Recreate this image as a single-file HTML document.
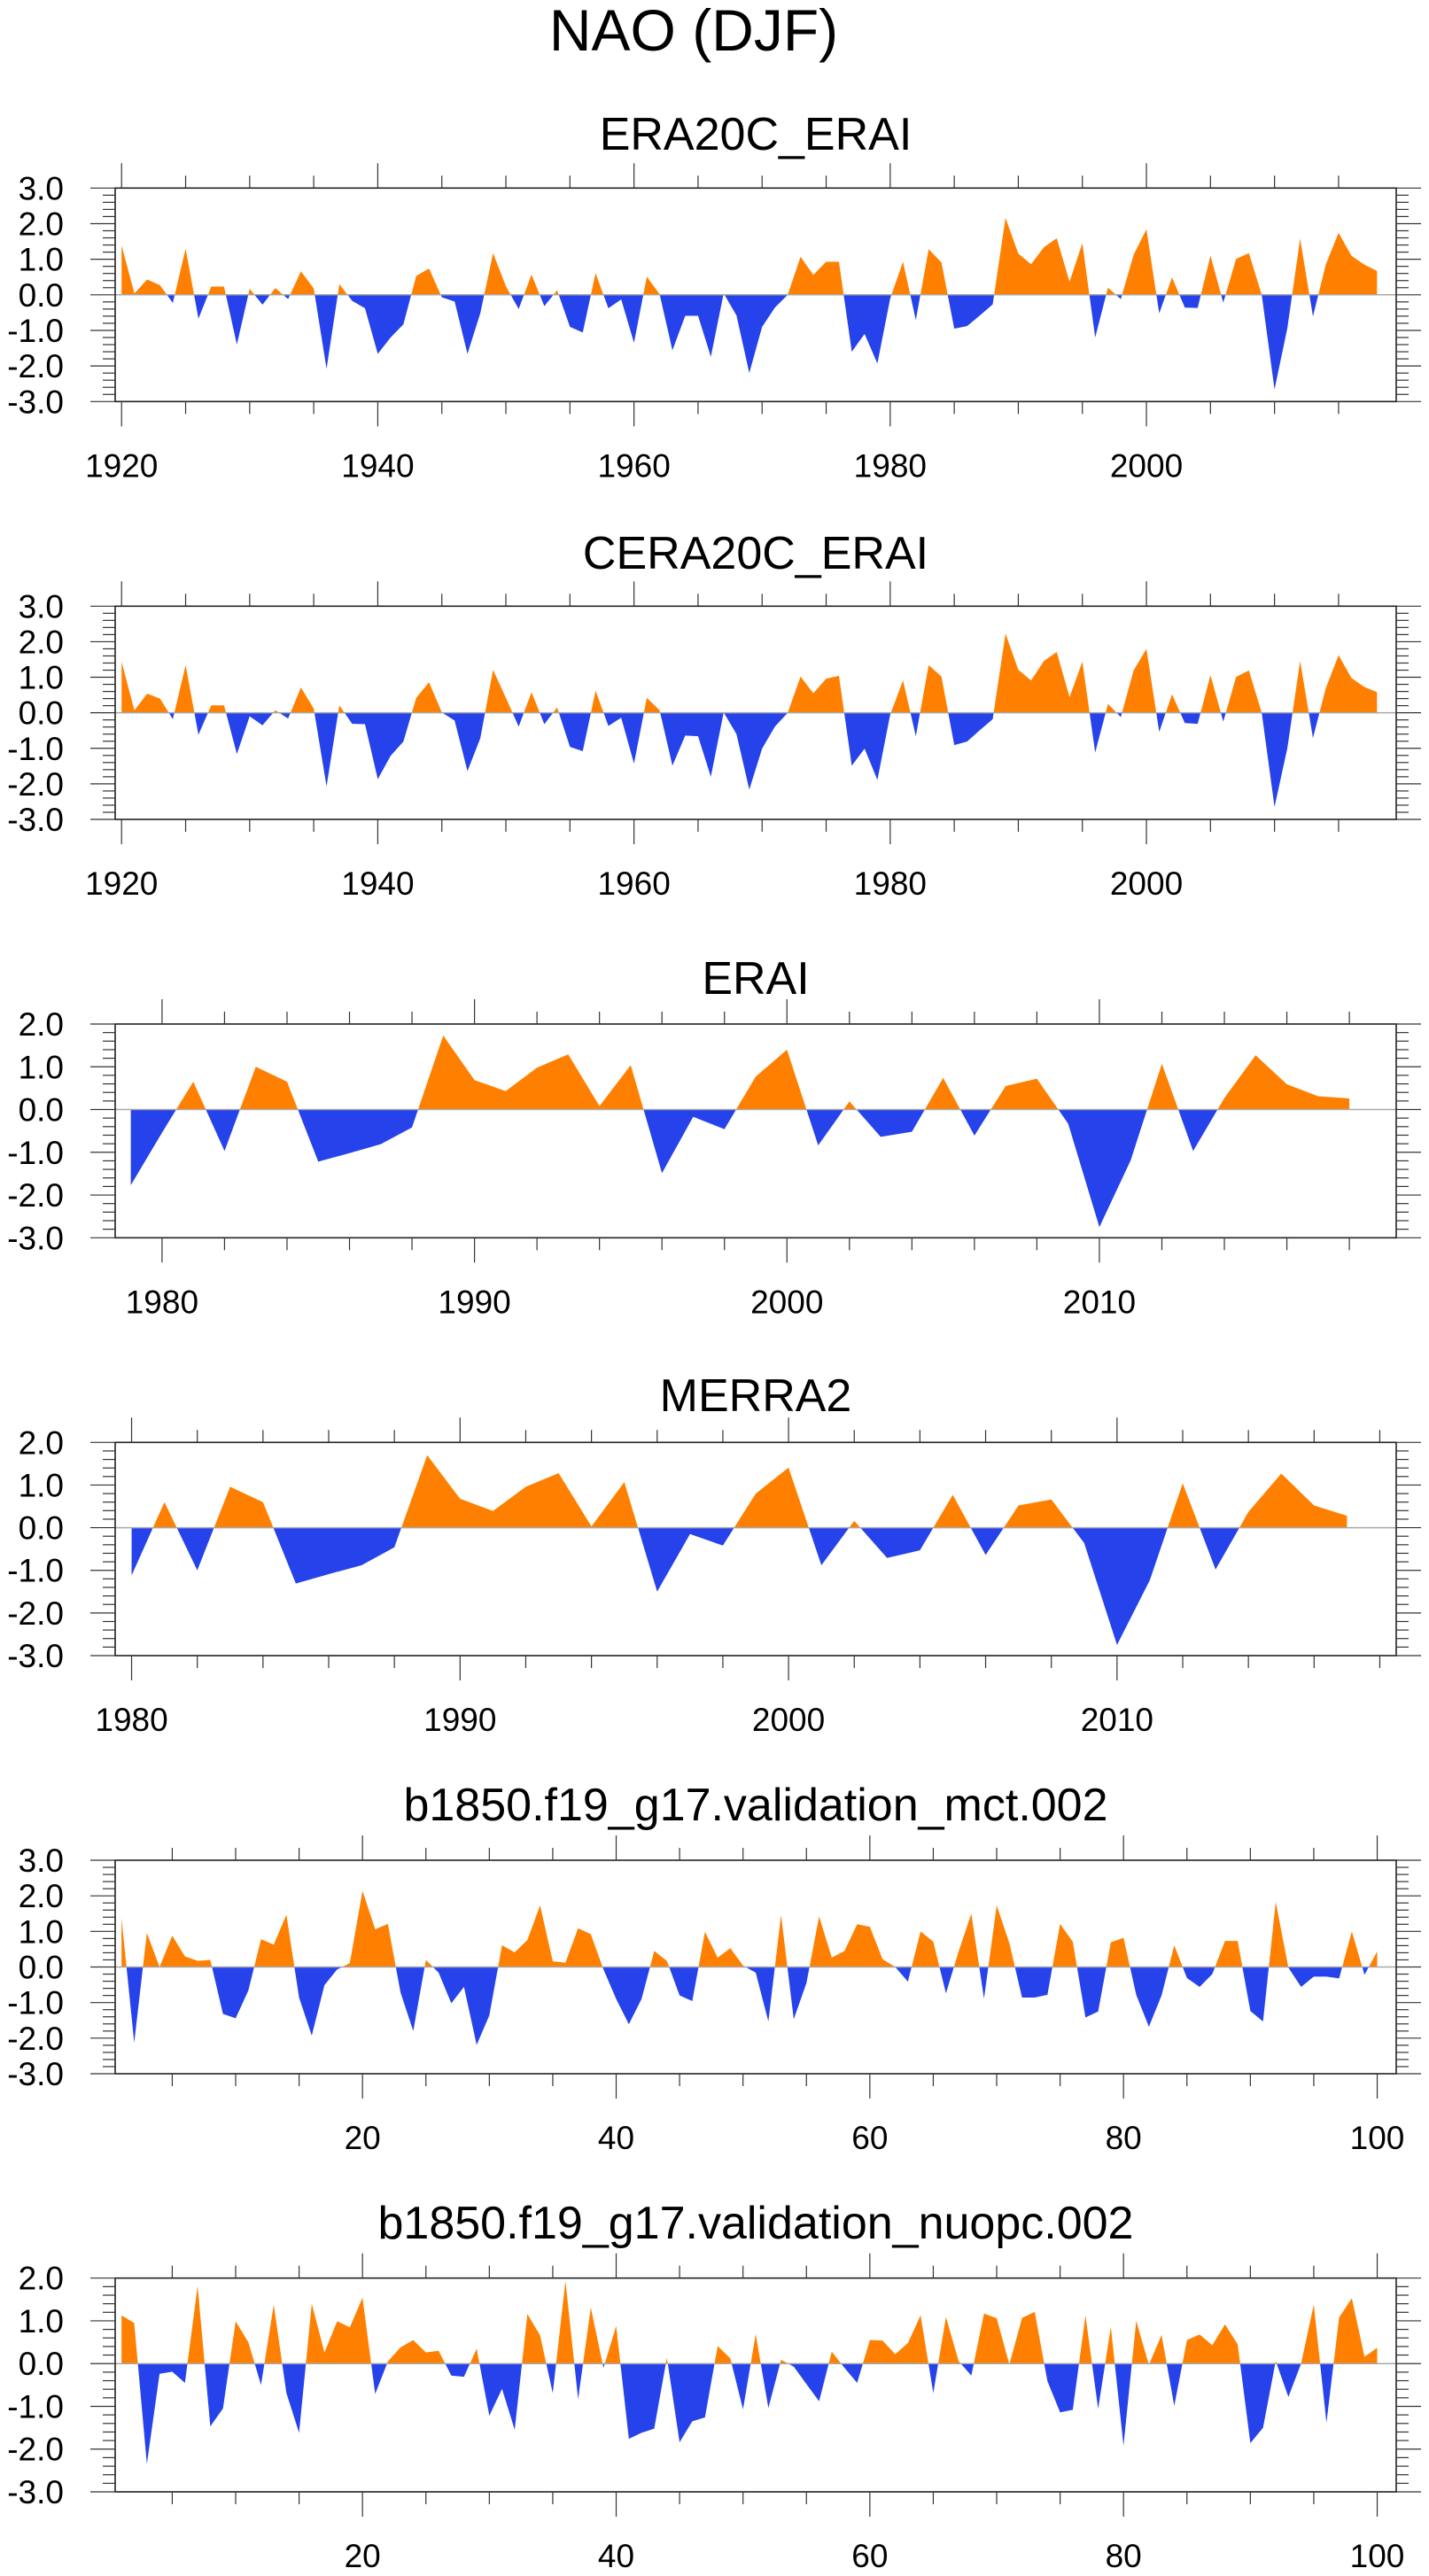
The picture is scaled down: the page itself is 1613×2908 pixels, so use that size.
<!DOCTYPE html>
<html>
<head>
<meta charset="utf-8">
<title>NAO (DJF)</title>
<style>
html,body{margin:0;padding:0;background:#fff;}
svg{display:block;}
text{font-family:"Liberation Sans",Arial,sans-serif;fill:#000;}
</style>
</head>
<body>
<svg id="chart" xmlns="http://www.w3.org/2000/svg" width="1613" height="2908" viewBox="0 0 1613 2908">
<rect x="0" y="0" width="1613" height="2908" fill="#fff"/>
<text x="783" y="57" font-size="66" text-anchor="middle">NAO (DJF)</text>
<g id="panels"></g>
</svg>
<script>
// ---- data ----
const era20cValues = [1.39,0.04,0.43,0.27,-0.23,1.30,-0.67,0.23,0.23,-1.40,0.17,-0.28,0.19,-0.12,0.66,0.18,-2.08,0.30,-0.17,-0.38,
-1.66,-1.20,-0.83,0.53,0.74,-0.07,-0.19,-1.66,-0.52,1.17,0.24,-0.40,0.57,-0.32,0.13,-0.90,-1.06,0.61,-0.38,-0.13,
-1.35,0.51,0.02,-1.56,-0.59,-0.59,-1.74,0.04,-0.58,-2.20,-0.90,-0.36,0.0,1.07,0.56,0.93,0.93,-1.60,-1.10,-1.93,
-0.10,0.93,-0.71,1.28,0.91,-0.95,-0.88,-0.58,-0.27,2.16,1.16,0.86,1.34,1.59,0.37,1.45,-1.20,0.20,-0.12,1.12,
1.84,-0.52,0.49,-0.36,-0.37,1.10,-0.22,1.01,1.17,0.0,-2.66,-0.94,1.58,-0.61,0.85,1.74,1.10,0.85,0.67];
const cera20cValues = [1.44,0.07,0.54,0.40,-0.18,1.34,-0.62,0.21,0.21,-1.16,-0.10,-0.35,0.07,-0.16,0.71,0.12,-2.07,0.21,-0.31,-0.32,
-1.87,-1.21,-0.81,0.42,0.86,0.01,-0.22,-1.64,-0.72,1.21,0.42,-0.39,0.58,-0.32,0.15,-0.96,-1.08,0.62,-0.37,-0.14,
-1.43,0.42,0.07,-1.49,-0.64,-0.66,-1.80,0.01,-0.60,-2.16,-1.01,-0.39,0.0,1.02,0.55,0.96,1.04,-1.49,-1.01,-1.89,
-0.05,0.91,-0.66,1.34,1.02,-0.91,-0.81,-0.49,-0.18,2.23,1.21,0.91,1.46,1.71,0.44,1.44,-1.12,0.25,-0.12,1.19,
1.80,-0.54,0.52,-0.29,-0.31,1.06,-0.25,1.01,1.19,0.0,-2.65,-1.00,1.46,-0.71,0.69,1.62,0.98,0.73,0.58];
const eraiValues = [-1.77,-0.54,0.65,-0.97,1.00,0.65,-1.22,-1.02,-0.81,-0.42,1.73,0.69,0.43,0.98,1.29,0.08,1.04,-1.49,-0.17,-0.46,
0.77,1.40,-0.84,0.19,-0.64,-0.52,0.74,-0.61,0.55,0.72,-0.33,-2.75,-1.19,1.07,-0.97,0.27,1.27,0.59,0.31,0.26];
const merra2Values = [-1.12,0.60,-1.00,0.96,0.60,-1.31,-1.09,-0.88,-0.46,1.70,0.68,0.39,0.96,1.28,0.03,1.07,-1.50,-0.15,-0.42,0.80,
1.41,-0.88,0.16,-0.71,-0.53,0.77,-0.64,0.52,0.66,-0.36,-2.75,-1.23,1.04,-0.98,0.37,1.27,0.52,0.28];
const mctValues = [1.38,-2.13,0.96,0.0,0.88,0.30,0.17,0.20,-1.32,-1.44,-0.66,0.78,0.63,1.47,-0.86,-1.93,-0.51,-0.07,0.11,2.14,
1.06,1.21,-0.72,-1.80,0.20,-0.16,-1.02,-0.56,-2.19,-1.36,0.61,0.41,0.76,1.73,0.16,0.12,1.09,0.92,-0.07,-0.90,
-1.61,-0.90,0.45,0.17,-0.80,-0.96,0.99,0.26,0.53,0.04,-0.16,-1.53,1.46,-1.47,-0.45,1.42,0.26,0.45,1.20,1.13,
0.22,0.0,-0.41,1.00,0.71,-0.74,0.44,1.50,-0.89,1.73,0.67,-0.86,-0.86,-0.78,1.21,0.71,-1.42,-1.25,0.69,0.82,
-0.78,-1.68,-0.80,0.61,-0.31,-0.56,-0.20,0.73,0.73,-1.24,-1.53,1.83,-0.02,-0.56,-0.27,-0.27,-0.32,1.00,-0.22,0.44];
const nuopcValues = [1.13,0.95,-2.35,-0.24,-0.19,-0.45,1.82,-1.47,-1.05,0.99,0.50,-0.50,1.38,-0.69,-1.62,1.40,0.26,0.99,0.85,1.54,
-0.71,0.05,0.38,0.55,0.26,0.30,-0.28,-0.31,0.35,-1.22,-0.59,-1.55,1.16,0.66,-0.69,1.93,-0.83,1.31,-0.10,0.88,
-1.76,-1.62,-1.52,0.14,-1.84,-1.35,-1.26,0.41,0.12,-1.07,0.69,-1.04,0.09,-0.07,-0.48,-0.88,0.28,-0.10,-0.45,0.55,
0.54,0.22,0.48,1.13,-0.69,1.09,0.06,-0.28,1.17,1.06,-0.02,1.07,1.21,-0.41,-1.14,-1.08,1.13,-1.06,0.86,-1.92,
1.00,-0.03,0.67,-0.99,0.55,0.68,0.43,0.92,0.45,-1.86,-1.50,0.06,-0.78,0.0,1.38,-1.38,1.08,1.53,0.16,0.37];

const panelTitles = ["ERA20C_ERAI","CERA20C_ERAI","ERAI","MERRA2","b1850.f19_g17.validation_mct.002","b1850.f19_g17.validation_nuopc.002"];
const panelStarts = [1920,1920,1979,1980,1,1];
const xTickLabelsYears = [1920,1940,1960,1980,2000];
const xTickLabelsDecade = [1980,1990,2000,2010];
const xTickLabelsModel = [20,40,60,80,100];
const yTicks6 = [3,2,1,0,-1,-2,-3];
const yTicks5 = [2,1,0,-1,-2,-3];

// ---- layout (not data) ----
const FL = 130, FR = 1576;
const layout = [
  {vals: era20cValues, x0:1919.5, x1:2019.5, yMax:3, yMin:-3, top:212.3, bot:453.3, tb:169, major:xTickLabelsYears, minorStep:5, yt:yTicks6},
  {vals: cera20cValues, x0:1919.5, x1:2019.5, yMax:3, yMin:-3, top:684.3, bot:925, tb:642, major:xTickLabelsYears, minorStep:5, yt:yTicks6},
  {vals: eraiValues, x0:1978.5, x1:2019.5, yMax:2, yMin:-3, top:1156, bot:1397.3, tb:1122, major:xTickLabelsDecade, minorStep:2, yt:yTicks5},
  {vals: merra2Values, x0:1979.5, x1:2018.5, yMax:2, yMin:-3, top:1628.3, bot:1869, tb:1593, major:xTickLabelsDecade, minorStep:2, yt:yTicks5},
  {vals: mctValues, x0:0.5, x1:101.5, yMax:3, yMin:-3, top:2100, bot:2341, tb:2055, major:xTickLabelsModel, minorStep:5, yt:yTicks6},
  {vals: nuopcValues, x0:0.5, x1:101.5, yMax:2, yMin:-3, top:2571.7, bot:2813, tb:2527, major:xTickLabelsModel, minorStep:5, yt:yTicks5}
];
const NS = "http://www.w3.org/2000/svg";
const root = document.getElementById('panels');
function mk(tag, attrs, parent){
  const e = document.createElementNS(NS, tag);
  for (const k in attrs) e.setAttribute(k, attrs[k]);
  parent.appendChild(e);
  return e;
}
layout.forEach((p, pi) => {
  const g = mk('g', {}, root);
  
  
  const sx = v => FL + (v - p.x0) / (p.x1 - p.x0) * (FR - FL);
  const sy = v => p.top + (p.yMax - v) / (p.yMax - p.yMin) * (p.bot - p.top);
  const xs = p.vals.map((v, i) => panelStarts[pi] + i);

  // title
  const t = mk('text', {x:(FL+FR)/2, y:p.tb, 'font-size':52, 'text-anchor':'middle'}, g);
  t.textContent = panelTitles[pi];
  
  

  // fill
  const y0 = sy(0);
  let d = 'M' + sx(xs[0]) + ',' + y0;
  p.vals.forEach((v, i) => { d += ' L' + sx(xs[i]).toFixed(2) + ',' + sy(v).toFixed(2); });
  d += ' L' + sx(xs[xs.length-1]) + ',' + y0 + ' Z';
  const cidA = 'clipA' + pi, cidB = 'clipB' + pi;
  const defs = mk('defs', {}, g);
  const ca = mk('clipPath', {id:cidA}, defs);
  mk('rect', {x:FL, y:p.top, width:FR-FL, height:y0-p.top}, ca);
  const cb = mk('clipPath', {id:cidB}, defs);
  mk('rect', {x:FL, y:y0, width:FR-FL, height:p.bot-y0}, cb);
  const pos = mk('path', {d:d, fill:'#ff8000', 'clip-path':'url(#'+cidA+')'}, g);
  
  
  const neg = mk('path', {d:d, fill:'#2643eb', 'clip-path':'url(#'+cidB+')'}, g);
  
  

  // zero line
  const zl = mk('line', {x1:FL, x2:FR, y1:y0, y2:y0, stroke:'#a8a8a8', 'stroke-width':1.5}, g);
  
  

  // frame
  const fr = mk('rect', {x:FL, y:p.top, width:FR-FL, height:p.bot-p.top, fill:'none', stroke:'#222', 'stroke-width':1.6}, g);
  
  

  // x ticks
  const tg = mk('g', {stroke:'#333', 'stroke-width':1.2}, g);
  
  
  const startMinor = Math.ceil(p.x0 / p.minorStep) * p.minorStep;
  for (let v = startMinor; v <= p.x1; v += p.minorStep) {
    const isMajor = p.major.indexOf(v) >= 0;
    const L = isMajor ? 28 : 14;
    const x = sx(v);
    mk('line', {x1:x, x2:x, y1:p.top, y2:p.top - L}, tg);
    mk('line', {x1:x, x2:x, y1:p.bot, y2:p.bot + L}, tg);
  }
  p.major.forEach(v => {
    const lt = mk('text', {x:sx(v), y:p.bot + 85, 'font-size':37, 'text-anchor':'middle'}, g);
    lt.textContent = String(v);
    
    
  });
  // y ticks
  for (let k = Math.round(p.yMin*5); k <= Math.round(p.yMax*5); k++) {
    const v = k / 5;
    const isMajor = (k % 5 === 0);
    const L = isMajor ? 28 : 14;
    const y = sy(v);
    mk('line', {x1:FL, x2:FL - L, y1:y, y2:y}, tg);
    mk('line', {x1:FR, x2:FR + L, y1:y, y2:y}, tg);
  }
  p.yt.forEach(v => {
    const yl = mk('text', {x:72, y:sy(v) + 13, 'font-size':37, 'text-anchor':'end'}, g);
    yl.textContent = v.toFixed(1);
    
    
  });
});
</script>
</body>
</html>
